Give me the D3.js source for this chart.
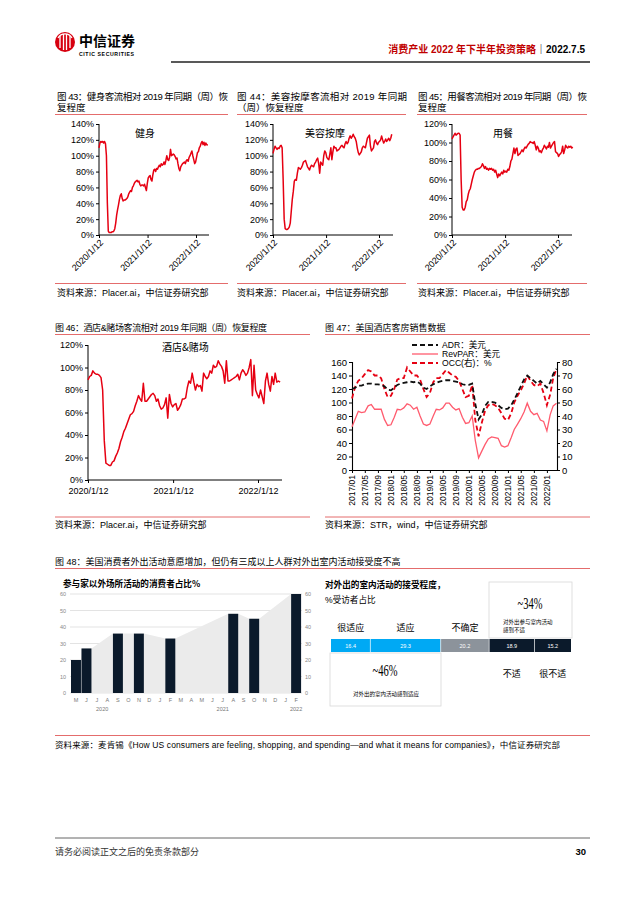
<!DOCTYPE html>
<html><head><meta charset="utf-8">
<script src="https://cdn.jsdelivr.net/npm/d3@7"></script>
<style>
body{margin:0;background:#fff;}
svg{display:block;}
text{font-family:"Liberation Sans","Noto Sans CJK SC",sans-serif;}
</style></head><body>
<svg id="page" width="640" height="905"></svg>
<script>
// ---------------- DATA ----------------
const yearTicks = ["2020/1/12","2021/1/12","2022/1/12"];
const fitness = [110,116,118,117,118,116,118,115,100,40,5,3,3,3,4,4,5,8,15,25,32,38,45,50,52,46,43,44,44,45,46,48,52,54,56,55,60,62,65,67,68,69,67,68,64,62,63,63,62,64,60,56,65,72,74,75,70,68,76,82,83,80,84,83,86,88,86,90,88,89,92,89,94,100,95,94,98,108,100,101,102,101,99,96,97,90,84,81,86,88,90,91,92,90,94,95,93,98,100,103,106,100,95,90,92,98,104,105,110,112,116,118,114,117,113,116,114,113];
const beauty = [103,108,112,110,108,110,109,112,113,110,70,20,8,7,7,8,10,15,30,45,55,68,70,69,78,85,84,83,85,88,92,93,94,90,86,84,82,86,88,87,86,90,92,95,97,90,78,92,90,88,100,106,104,98,96,95,102,110,95,105,112,110,110,106,107,108,110,112,113,111,110,115,118,115,117,122,125,122,124,127,124,122,118,110,104,101,103,105,110,112,111,110,116,122,124,126,112,106,108,110,118,120,116,114,117,118,120,125,120,116,118,121,118,120,122,119,122,127];
const dining = [104,106,108,110,108,109,110,110,108,60,30,27,27,30,36,38,44,48,50,55,60,64,68,70,71,71,72,72,73,74,77,75,72,74,71,72,70,72,71,72,70,71,68,70,66,62,66,64,66,68,66,70,68,69,68,71,70,74,80,82,88,94,88,93,94,86,87,88,90,92,90,93,95,94,96,98,99,101,100,100,99,101,97,92,96,94,90,91,89,92,94,97,95,93,96,95,100,94,96,98,100,101,90,89,88,85,87,88,90,96,88,92,97,95,94,96,95,96,94,95];
const hotelCasino = [89,92,93,97,95,94,94,93,91,80,35,15,14,13,13,16,17,21,24,28,34,38,43,46,50,54,58,59,61,66,70,75,72,70,86,70,70,72,74,76,77,75,70,72,66,63,64,67,73,55,76,68,65,67,68,62,64,67,72,72,73,82,88,86,95,87,80,85,83,84,79,95,92,90,92,97,95,102,100,101,106,103,101,97,86,106,88,88,89,90,91,92,94,89,95,98,96,93,95,100,107,75,102,80,76,73,80,74,68,88,95,85,79,92,85,95,87,88,87];

const f47Ticks = ["2017/01","2017/05","2017/09","2018/01","2018/05","2018/09","2019/01","2019/05","2019/09","2020/01","2020/05","2020/09","2021/01","2021/05","2021/09","2022/01"];
const adr    = [120,122,125,125,127,128,128,127,127,126,124,119,118,122,126,128,129,130,131,130,131,128,122,120,124,127,129,131,132,133,133,132,131,130,127,126,126,128,98,75,82,95,101,101,100,96,92,90,91,96,104,114,124,134,140,136,132,128,132,127,122,130,142,150];
const revpar = [64,76,87,85,86,95,97,90,90,90,75,66,67,78,90,89,92,98,96,90,93,80,68,66,68,80,90,89,92,99,99,93,89,91,78,69,70,80,44,18,28,38,46,49,48,47,36,34,36,48,60,68,76,86,99,87,82,84,74,72,58,82,95,99];
const occ    = [53,62,66,68,71,74,73,70,70,68,60,54,55,60,67,68,68,76,73,70,70,67,60,54,57,65,68,68,71,74,72,70,69,66,60,54,55,63,37,25,35,44,48,49,48,46,42,38,37,42,50,55,59,64,70,66,63,62,64,57,48,56,68,75];

const f48Months = ["M","J","J","A","S","O","N","D","J","F","M","A","M","J","J","A","S","O","N","D","J","F"];
const f48Years = ["2020","2021","2022"];
const f48Values = [20,27,null,null,36,null,36,null,null,33,null,null,null,null,null,48,null,45,null,null,null,60];
const comfortLabels = ["很适应","适应","不确定","不适","很不适"];
const comfortValues = [16.4,29.3,20.2,18.9,15.2];

// ---------------- DRAW ----------------
const svg = d3.select("#page");
svg.append("rect").attr("width",640).attr("height",905).attr("fill","#fff");
const RED = "#e60012", RULE = "#e46c6c";

function txt(x,y,s,o={}){
  const t = svg.append("text").attr("x",x).attr("y",y).text(s)
    .attr("font-size",o.size||9).attr("fill",o.fill||"#000");
  if(o.anchor) t.attr("text-anchor",o.anchor);
  if(o.weight) t.attr("font-weight",o.weight);
  if(o.family) t.style("font-family",o.family);
  if(o.len) t.attr("textLength",o.len).attr("lengthAdjust",o.adj||"spacing");
  return t;
}
function line(x1,y1,x2,y2,c,w){
  return svg.append("line").attr("x1",x1).attr("y1",y1).attr("x2",x2).attr("y2",y2)
    .attr("stroke",c).attr("stroke-width",w||1);
}

// Header
const logo = svg.append("g");
logo.append("circle").attr("cx",65).attr("cy",42).attr("r",10).attr("fill","#d7000f");
[[-5,-6,-5,6],[-1.5,-8,-1.5,8],[1.5,-8,1.5,8],[5,-6,5,6]].forEach(p=>{
  logo.append("line").attr("x1",65+p[0]).attr("y1",42+p[1]).attr("x2",65+p[2]).attr("y2",42+p[3])
   .attr("stroke","#fff").attr("stroke-width",1.3);
});
logo.append("path").attr("d","M58,38 A8,8 0 0 1 72,38").attr("fill","none").attr("stroke","#fff").attr("stroke-width",1.2);
txt(79,45.5,"中信证券",{size:14,weight:"bold",family:"Noto Sans CJK SC",len:56});
txt(79,56,"CITIC SECURITIES",{size:5.2,weight:"bold",len:55});
const hdr = svg.append("text").attr("x",585).attr("y",53).attr("text-anchor","end").attr("font-size",10).attr("font-weight","bold");
hdr.append("tspan").attr("fill","#c00000").text("消费产业 2022 年下半年投资策略");
hdr.append("tspan").attr("fill","#000").text("｜2022.7.5");
line(171,62,590,62,"#222",1.6);

// Weekly charts
function drawWeekly(c){
  const start = d3.timeParse("%Y/%m/%d")(yearTicks[0]);
  const tdates = yearTicks.map(s=>d3.timeParse("%Y/%m/%d")(s));
  const dates = c.data.map((d,i)=>d3.timeDay.offset(start,7*i));
  const x = d3.scaleTime().domain([tdates[0],tdates[2]]).range([c.x0,c.x2]);
  const y = d3.scaleLinear().domain([0,c.yMax]).range([c.yB,c.yT]);
  const g = svg.append("g");
  const ya = g.append("g").attr("transform",`translate(${c.x0},0)`)
    .call(d3.axisLeft(y).tickValues(d3.range(0,c.yMax+1,20)).tickFormat(d=>d+"%").tickSize(3).tickPadding(2));
  ya.select(".domain").remove();
  ya.selectAll("text").attr("font-size",c.fs).attr("fill","#000");
  ya.selectAll("line").attr("stroke","#000");
  const xa = g.append("g").attr("transform",`translate(0,${c.yB})`)
    .call(d3.axisBottom(x).tickValues(tdates).tickFormat((d,i)=>yearTicks[i]).tickSize(3));
  xa.select(".domain").remove();
  xa.selectAll("line").attr("stroke","#000");
  const xt = xa.selectAll("text").attr("font-size",c.fs).attr("fill","#000");
  if(c.rot){
    xt.attr("x",0).attr("y",0).attr("dy","0.35em").attr("text-anchor","end")
      .attr("transform","translate(2,6) rotate(-45)");
  } else {
    xt.attr("y",8);
  }
  g.append("line").attr("x1",c.x0).attr("x2",c.x0).attr("y1",c.yT).attr("y2",c.yB).attr("stroke","#000");
  g.append("line").attr("x1",c.x0).attr("x2",c.xEnd).attr("y1",c.yB).attr("y2",c.yB).attr("stroke","#000");
  g.append("path").datum(c.data).attr("fill","none").attr("stroke",RED).attr("stroke-width",1.5)
    .attr("stroke-linejoin","round")
    .attr("d",d3.line().x((d,i)=>x(dates[i])).y(d=>y(d)));
  txt(c.lx,c.ly,c.label,{size:10,family:"Noto Sans CJK SC"});
}

// Fig 43
txt(57,100,"图 43：健身客流相对 2019 年同期（周）恢",{size:9.5,len:171});
txt(57,111,"复程度",{size:9.5});
line(55,114.5,228,114.5,RULE,1);
drawWeekly({data:fitness,x0:99,x2:196,xEnd:209,yT:124,yB:235,yMax:140,rot:true,fs:9,label:"健身",lx:135,ly:137});
line(55,283.5,228,283.5,RULE,1);
txt(57,296,"资料来源：Placer.ai，中信证券研究部",{size:9});

// Fig 44
txt(237,100,"图 44：美容按摩客流相对 2019 年同期",{size:9.5,len:170});
txt(237,111,"（周）恢复程度",{size:9.5});
line(237,114.5,406,114.5,RULE,1);
drawWeekly({data:beauty,x0:273,x2:379,xEnd:393,yT:124,yB:235,yMax:140,rot:true,fs:9,label:"美容按摩",lx:305,ly:137});
line(237,283.5,406,283.5,RULE,1);
txt(237,296,"资料来源：Placer.ai，中信证券研究部",{size:9});

// Fig 45
txt(418,100,"图 45：用餐客流相对 2019 年同期（周）恢",{size:9.5,len:169});
txt(418,111,"复程度",{size:9.5});
line(417,114.5,587,114.5,RULE,1);
drawWeekly({data:dining,x0:452,x2:558,xEnd:572,yT:124,yB:235,yMax:120,rot:true,fs:9,label:"用餐",lx:493,ly:137});
line(417,283.5,587,283.5,RULE,1);
txt(418,296,"资料来源：Placer.ai，中信证券研究部",{size:9});

// Fig 46
txt(55,331,"图 46：酒店&赌场客流相对 2019 年同期（周）恢复程度",{size:9,len:212});
line(55,334.5,310,334.5,RULE,1);
drawWeekly({data:hotelCasino,x0:88,x2:258,xEnd:282,yT:345,yB:480,yMax:120,rot:false,fs:9,label:"酒店&赌场",lx:162,ly:351});
line(55,517,310,517,RULE,1);
txt(55,528,"资料来源：Placer.ai，中信证券研究部",{size:9});

// Fig 47
txt(325,331,"图 47：美国酒店客房销售数据",{size:9});
line(325,334.5,590,334.5,RULE,1);
(function(){
  const start = d3.timeParse("%Y/%m")(f47Ticks[0]);
  const months = adr.map((d,i)=>d3.timeMonth.offset(start,i));
  const tickDates = f47Ticks.map(s=>d3.timeParse("%Y/%m")(s));
  const x = d3.scaleTime().domain([months[0],months[months.length-1]]).range([352,556.5]);
  const yL = d3.scaleLinear().domain([0,160]).range([470,362]);
  const yR = d3.scaleLinear().domain([0,80]).range([470,362]);
  const g = svg.append("g");
  const al = g.append("g").attr("transform","translate(352,0)").call(d3.axisLeft(yL).tickValues(d3.range(0,161,20)).tickSize(3).tickPadding(2));
  const ar = g.append("g").attr("transform","translate(557,0)").call(d3.axisRight(yR).tickValues(d3.range(0,81,10)).tickSize(3).tickPadding(2));
  const ab = g.append("g").attr("transform","translate(0,470)").call(d3.axisBottom(x).tickValues(tickDates).tickFormat((d,i)=>f47Ticks[i]).tickSize(3));
  [al,ar,ab].forEach(a=>{a.select(".domain").attr("stroke","#000").attr("stroke-width",1.1);a.selectAll("line").attr("stroke","#000");
    a.selectAll("text").attr("font-size",9.5).attr("fill","#000");});
  ab.select(".domain").attr("d","M352,0.5H557");
  ab.selectAll("text").attr("x",0).attr("y",0).attr("dy","0.35em").attr("text-anchor","end")
    .attr("font-size",8.5).attr("transform","translate(0,5) rotate(-90)");
  const mk = (arr,ys)=>d3.line().x((d,i)=>x(months[i])).y(d=>ys(d))(arr);
  g.append("path").attr("d",mk(revpar,yL)).attr("fill","none").attr("stroke","#ff5b6e").attr("stroke-width",1.3);
  g.append("path").attr("d",mk(occ,yR)).attr("fill","none").attr("stroke","#e60012").attr("stroke-width",1.8).attr("stroke-dasharray","5,3");
  g.append("path").attr("d",mk(adr,yL)).attr("fill","none").attr("stroke","#111").attr("stroke-width",1.8).attr("stroke-dasharray","5,3");
  const leg = [["ADR：美元","#111","5,3",1.8],["RevPAR：美元","#ff5b6e",null,1.3],["OCC(右)：%","#e60012","5,3",1.8]];
  leg.forEach((l,i)=>{
    const yy = 345+i*9;
    const ln = g.append("line").attr("x1",412).attr("x2",438).attr("y1",yy).attr("y2",yy).attr("stroke",l[1]).attr("stroke-width",l[3]);
    if(l[2]) ln.attr("stroke-dasharray",l[2]);
    g.append("text").attr("x",442).attr("y",yy+3).attr("font-size",8.6).text(l[0]);
  });
})();
line(325,517,590,517,RULE,1);
txt(325,528,"资料来源：STR，wind，中信证券研究部",{size:9});

// Fig 48
txt(55,565,"图 48：美国消费者外出活动意愿增加，但仍有三成以上人群对外出室内活动接受度不高",{size:9});
line(55,568.5,590,568.5,RULE,1);
(function(){
  txt(63,587,"参与家以外场所活动的消费者占比%",{size:8.6,weight:"bold",family:"Noto Sans CJK SC"});
  const x = d3.scaleBand().domain(d3.range(f48Months.length)).range([70.8,301.3]).paddingInner(0.05).paddingOuter(0.02);
  const y = d3.scaleLinear().domain([0,60]).range([693,594]);
  const g = svg.append("g");
  d3.range(0,61,10).forEach(v=>{
    g.append("line").attr("x1",70).attr("x2",302).attr("y1",y(v)).attr("y2",y(v)).attr("stroke","#dcdcdc").attr("stroke-width",0.8);
    g.append("text").attr("x",66).attr("y",y(v)+2).attr("text-anchor","end").attr("font-size",5.5).attr("fill","#888").text(v);
    g.append("text").attr("x",305).attr("y",y(v)+2).attr("font-size",5.5).attr("fill","#888").text(v);
  });
  const pts = [];
  f48Values.forEach((v,i)=>{ if(v!=null){ pts.push([x(i),v]); pts.push([x(i)+x.bandwidth(),v]); } });
  g.append("path").attr("fill","#ebebeb")
    .attr("d",d3.area().x(d=>d[0]).y0(y(0)).y1(d=>y(d[1]))(pts));
  f48Values.forEach((v,i)=>{ if(v!=null){
    g.append("rect").attr("x",x(i)).attr("width",x.bandwidth()).attr("y",y(v)).attr("height",y(0)-y(v)).attr("fill","#0b1a2b");
  }});
  f48Months.forEach((m,i)=>{
    g.append("text").attr("x",x(i)+x.bandwidth()/2).attr("y",702).attr("text-anchor","middle").attr("font-size",5.5).attr("fill","#777").text(m);
  });
  const yearIdx = {"2020":2.5,"2021":14,"2022":21};
  f48Years.forEach(yr=>{
    const xi = x(Math.floor(yearIdx[yr])) + x.bandwidth()/2 + (yearIdx[yr]%1)*x.step();
    g.append("text").attr("x",xi).attr("y",711).attr("text-anchor","middle").attr("font-size",5.5).attr("fill","#777").text(yr);
  });
})();
(function(){
  txt(325,588,"对外出的室内活动的接受程度，",{size:8.6,weight:"bold",family:"Noto Sans CJK SC"});
  txt(325,603,"%受访者占比",{size:8.6});
  const x = d3.scaleLinear().domain([0,d3.sum(comfortValues)]).range([331,571]);
  const cols = ["#00a9f4","#00a9f4","#8c939b","#0b1a2b","#0b1a2b"];
  const g = svg.append("g");
  // boxes
  g.append("rect").attr("x",489).attr("y",582).attr("width",83).attr("height",56).attr("fill","#fff").attr("stroke","#d8d8d8").attr("stroke-width",0.8);
  g.append("rect").attr("x",330).attr("y",653).attr("width",111).attr("height",53).attr("fill","#fff").attr("stroke","#d8d8d8").attr("stroke-width",0.8);
  let acc = 0;
  comfortValues.forEach((v,i)=>{
    const x0 = x(acc), x1 = x(acc+v);
    g.append("rect").attr("x",x0).attr("y",639).attr("width",x1-x0).attr("height",13).attr("fill",cols[i]);
    if(i>0) g.append("line").attr("x1",x0).attr("x2",x0).attr("y1",639).attr("y2",652).attr("stroke","#fff").attr("stroke-width",0.6);
    g.append("text").attr("x",(x0+x1)/2).attr("y",647.5).attr("text-anchor","middle").attr("font-size",5.5).attr("fill","#fff").text(v.toFixed(1));
    const cx = (x0+x1)/2;
    const ly = i<3 ? 631 : 677;
    g.append("text").attr("x",cx).attr("y",ly).attr("text-anchor","middle").attr("font-size",9).text(comfortLabels[i]);
    acc += v;
  });
  txt(530,609,"~34%",{size:16,anchor:"middle",family:"Liberation Serif",len:25,adj:"spacingAndGlyphs"});
  txt(503,624,"对外出参与室内活动",{size:5.5});
  txt(503,632,"感到不适",{size:5.5});
  txt(385,676,"~46%",{size:16,anchor:"middle",family:"Liberation Serif",len:25,adj:"spacingAndGlyphs"});
  txt(386,696,"对外出的室内活动感到适应",{size:5.5,anchor:"middle"});
})();
line(55,735.5,590,735.5,RULE,1);
txt(55,748,"资料来源：麦肯锡《How US consumers are feeling, shopping, and spending—and what it means for companies》，中信证券研究部",{size:8.5,len:505});

// Footer
line(55,838,590,838,"#666",1);
txt(55,855,"请务必阅读正文之后的免责条款部分",{size:9,fill:"#333"});
txt(586,855,"30",{size:9.5,weight:"bold",anchor:"end"});
</script>
</body></html>
